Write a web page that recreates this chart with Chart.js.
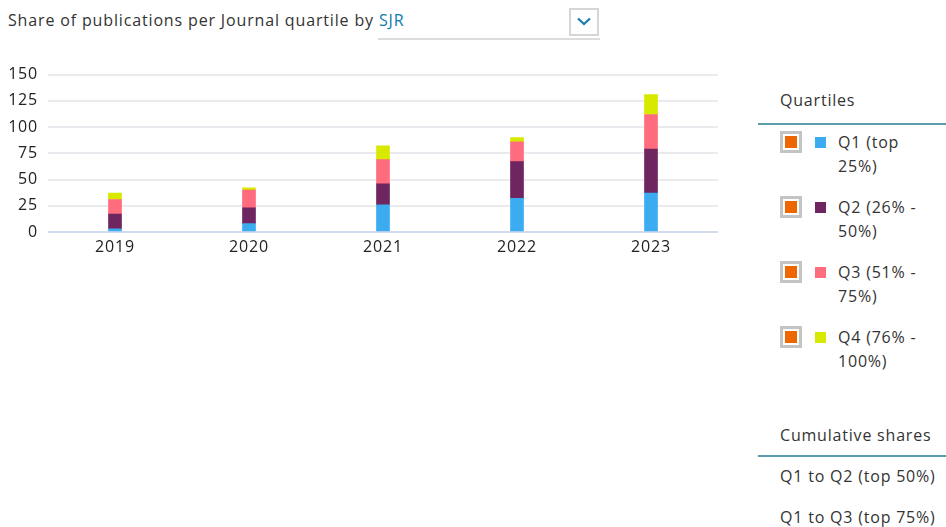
<!DOCTYPE html>
<html>
<head>
<meta charset="utf-8">
<script src="https://cdn.jsdelivr.net/npm/chart.js@4"></script>
<style>
  body { margin: 0; background: #fff; font-family: "Open Sans", sans-serif; letter-spacing: 0.8px; color: #333; width: 946px; height: 527px; overflow: hidden; position: relative; }
  #title { position: absolute; left: 8px; top: 9px; font-size: 16px; color: #333; letter-spacing: 0.85px; }
  #title .link { color: #0c7bab; }
  #ddLine { position: absolute; left: 378px; top: 38px; width: 222px; height: 2px; background: #dcdcdc; }
  #ddBox { position: absolute; left: 569px; top: 8px; width: 26px; height: 24px; border: 2px solid #d6d6d6; }
  #ddBox svg { position: absolute; left: 6px; top: 7px; }
  #chartWrap { position: absolute; left: 0; top: 55px; width: 730px; height: 207px; }
  .panelHead { position: absolute; left: 780px; font-size: 16px; color: #333; }
  .panelLine { position: absolute; left: 758px; width: 188px; height: 2px; background: #5e9eac; }
  .item { position: absolute; left: 780px; font-size: 16px; color: #333; }
  .chk { position: absolute; left: 0; top: 0; width: 16px; height: 16px; border: 3px solid #c4c4c4; }
  .chk div { position: absolute; left: 2px; top: 2px; width: 12px; height: 12px; background: #ee6600; }
  .sw { position: absolute; left: 35px; top: 6px; width: 11px; height: 11px; }
  .lbl { position: absolute; left: 58px; top: -1px; width: 100px; line-height: 24px; }
  .cum { position: absolute; left: 780px; font-size: 16px; color: #333; }
</style>
</head>
<body>
<div id="title">Share of publications per Journal quartile by <span class="link">SJR</span></div>
<div id="ddBox"><svg width="14" height="9" viewBox="0 0 14 9"><polyline points="1,1.5 7,7 13,1.5" fill="none" stroke="#1a7ea8" stroke-width="2.2"/></svg></div>
<div id="ddLine"></div>

<div id="chartWrap"><canvas id="quartileChart" width="730" height="207"></canvas></div>

<div class="panelHead" style="top:89px">Quartiles</div>
<div class="panelLine" style="top:123px"></div>
<div id="legend"></div>

<div class="panelHead" style="top:424px">Cumulative shares</div>
<div class="panelLine" style="top:455px"></div>
<div class="cum" style="top:465px">Q1 to Q2 (top 50%)</div>
<div class="cum" style="top:506px">Q1 to Q3 (top 75%)</div>

<script>
const years = ["2019", "2020", "2021", "2022", "2023"];
const quartileLabels = ["Q1 (top 25%)", "Q2 (26% - 50%)", "Q3 (51% - 75%)", "Q4 (76% - 100%)"];
const quartileColors = ["#3aacef", "#6e2560", "#ff6c7e", "#d8e900"];

const q1 = [3, 8, 26, 32, 37];
const q2 = [14, 15, 20, 35, 42];
const q3 = [14, 17, 23, 19, 33];
const q4 = [6, 2, 13, 4, 19];

const yTicks = [0, 25, 50, 75, 100, 125, 150];

document.addEventListener("DOMContentLoaded", () => {
    renderQuartileChart();
    renderLegend();
});

function renderQuartileChart() {
    const series = [q1, q2, q3, q4];
    const tickFont = { family: "Open Sans", size: 16 };

    new Chart(document.getElementById("quartileChart"), {
        type: "bar",
        data: {
            labels: years,
            datasets: series.map((data, i) => ({
                label: quartileLabels[i],
                data,
                backgroundColor: quartileColors[i],
                barThickness: 13
            }))
        },
        options: {
            responsive: false,
            animation: false,
            layout: { padding: { top: 4, right: 12, bottom: 0, left: 0 } },
            plugins: { legend: { display: false }, tooltip: { enabled: false } },
            scales: {
                x: {
                    stacked: true,
                    grid: { display: false, drawTicks: false },
                    border: { display: false },
                    ticks: { color: "#222", padding: 6, font: tickFont },
                    afterFit: s => { s.height = 30; }
                },
                y: {
                    stacked: true,
                    min: 0,
                    max: 150,
                    afterBuildTicks: s => { s.ticks = yTicks.map(v => ({ value: v })); },
                    grid: {
                        drawTicks: false,
                        lineWidth: 2,
                        color: ctx => ctx.tick && ctx.tick.value === 0 ? "#d3daee" : "#ebebef"
                    },
                    border: { display: false },
                    ticks: { color: "#222", padding: 10, font: tickFont },
                    afterFit: s => { s.width = 48; }
                }
            }
        }
    });
}

function renderLegend() {
    const legend = document.getElementById("legend");
    quartileLabels.forEach((label, i) => {
        const item = document.createElement("div");
        item.className = "item";
        item.style.top = (131 + i * 65) + "px";
        item.innerHTML =
            '<div class="chk"><div></div></div>' +
            '<div class="sw" style="background:' + quartileColors[i] + '"></div>' +
            '<div class="lbl">' + label + '</div>';
        legend.appendChild(item);
    });
}
</script>
</body>
</html>
